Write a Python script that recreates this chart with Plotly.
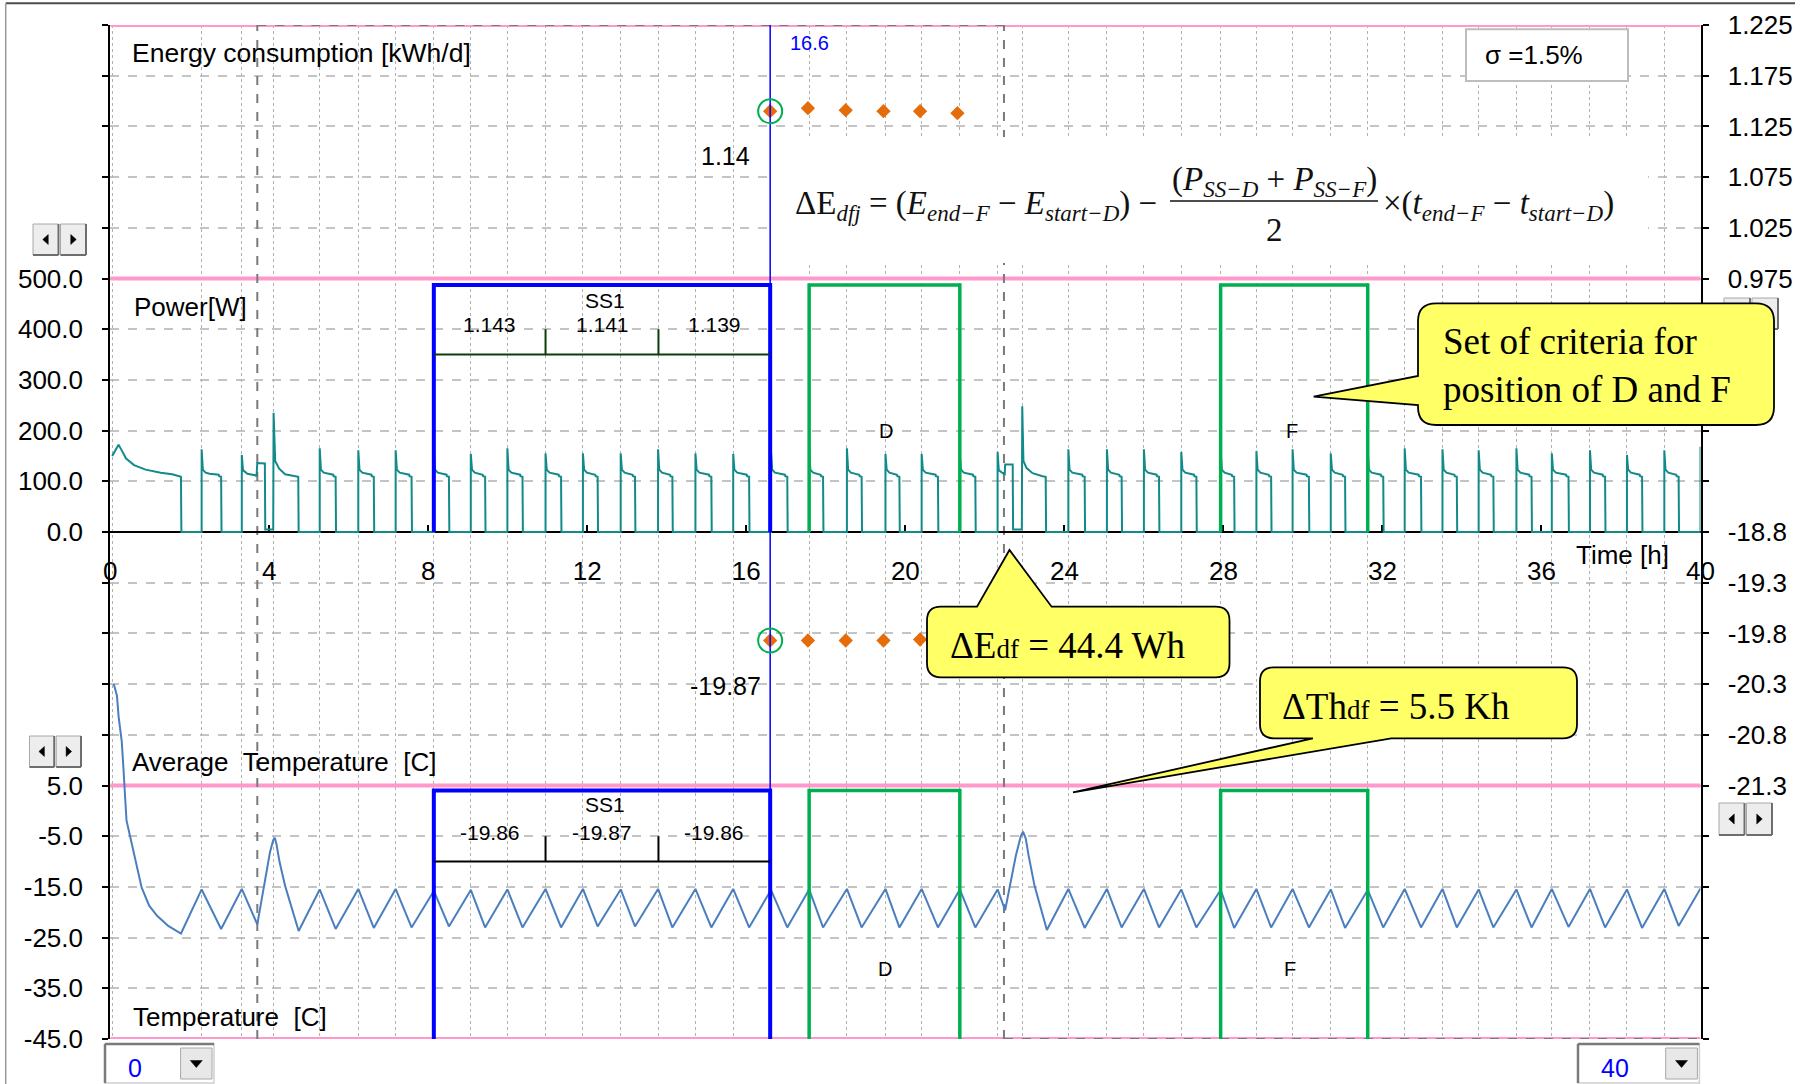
import plotly.graph_objects as go

# ---------------------------------------------------------------- data
x_tick_hours = [0, 4, 8, 12, 16, 20, 24, 28, 32, 36, 40]
power_ticks = [0, 100, 200, 300, 400, 500]
temp_ticks = [-45, -35, -25, -15, -5, 5]
energy_ticks = [0.975, 1.025, 1.075, 1.125, 1.175, 1.225]
avg_temp_ticks = [-21.3, -20.8, -20.3, -19.8, -19.3, -18.8]

# pull-down after switch-on
init_pw_t = [0.05, 0.12, 0.21, 0.29, 0.40, 0.60, 0.89, 1.27, 1.56, 1.78, 1.79]
init_pw_w = [150, 161, 172, 161, 145, 132, 123, 117, 114, 109, 0]
init_temp_t = [0.09, 0.17, 0.21, 0.29, 0.33, 0.36, 0.41, 0.50, 0.645, 0.79, 0.98, 1.18, 1.46, 1.78]
init_temp_v = [25.0, 22.7, 18.7, 13.7, 8.8, 4.8, -1.9, -5.0, -9.8, -15.1, -18.7, -20.7, -22.7, -24.2]

# first disturbance (around 4 h)
dist1_pw_t = [3.31, 3.31, 3.34, 3.45, 3.65, 3.68, 3.70, 3.89, 3.90, 4.10, 4.11, 4.15, 4.25, 4.40, 4.65, 4.73, 4.74]
dist1_pw_w = [0, 152, 122, 115, 112, 110, 136, 135, 5, 5, 235, 140, 125, 114, 110, 109, 0]
dist1_temp_t = [3.31, 3.70, 3.87, 4.02, 4.10, 4.14, 4.18, 4.26, 4.40, 4.55, 4.74]
dist1_temp_v = [-15.4, -22.4, -14.8, -8.1, -5.8, -5.3, -6.5, -10.1, -14.8, -18.8, -23.7]

# second disturbance (around 23 h)
dist2_pw_t = [22.32, 22.32, 22.35, 22.45, 22.50, 22.51, 22.70, 22.71, 22.93, 22.94, 22.97, 23.05, 23.20, 23.45, 23.53, 23.54]
dist2_pw_w = [0, 158, 122, 116, 114, 133, 133, 5, 5, 248, 140, 126, 116, 110, 109, 0]
dist2_temp_t = [22.32, 22.51, 22.63, 22.78, 22.90, 22.96, 23.03, 23.10, 23.25, 23.39, 23.56]
dist2_temp_v = [-15.5, -19.6, -14.8, -8.8, -5.1, -4.1, -5.5, -8.8, -14.8, -18.8, -23.5]

# regular compressor cycles: start [h], stop [h], start spike [W],
# temperature at start and at stop [C]
cycle_on = [2.30, 5.27, 6.24, 7.18, 8.14, 9.07, 9.99, 10.95, 11.89, 12.84, 13.78, 14.72,
            15.67, 16.62, 17.58, 18.53, 19.50, 20.41, 21.37, 24.10, 25.07, 26.00, 26.94, 27.93,
            28.83, 29.74, 30.70, 31.63, 32.56, 33.51, 34.42, 35.37, 36.26, 37.22, 38.15, 39.09]
cycle_off = [2.79, 5.67, 6.63, 7.58, 8.52, 9.43, 10.37, 11.34, 12.26, 13.20, 14.14, 15.12,
             16.07, 17.03, 17.93, 18.90, 19.85, 20.82, 21.76, 24.51, 25.44, 26.38, 27.32, 28.27,
             29.20, 30.15, 31.06, 32.02, 32.97, 33.87, 34.79, 35.75, 36.68, 37.60, 38.53, 39.45]
cycle_spike = [163, 165, 161, 161, 160, 154, 165, 155, 155, 155, 163, 155,
               154, 160, 162, 165, 154, 154, 154, 163, 163, 163, 158, 160,
               160, 163, 155, 160, 165, 163, 161, 165, 155, 161, 152, 161]
cycle_temp_hi = [-15.5, -15.5, -15.4, -15.4, -15.8, -15.6, -15.5, -15.4, -15.4, -15.5, -15.4, -15.4,
                 -15.4, -15.6, -15.5, -15.4, -15.4, -15.4, -15.5, -15.4, -15.4, -15.4, -15.5, -15.6,
                 -15.4, -15.4, -15.5, -15.6, -15.4, -15.4, -15.5, -15.5, -15.4, -15.4, -15.5, -15.4]
cycle_temp_lo = [-23.3, -23.3, -23.1, -23.0, -22.8, -23.0, -23.0, -23.0, -22.8, -22.8, -23.0, -23.0,
                 -23.0, -23.0, -23.0, -23.0, -23.0, -23.0, -23.0, -23.1, -23.0, -23.0, -23.0, -23.1,
                 -23.0, -23.0, -23.1, -23.0, -23.0, -23.0, -23.0, -23.0, -22.9, -23.0, -23.1, -22.7]
# running plateau of a cycle: hours after start / before stop and watts
plateau_dt = [0.03, 0.10, 0.20]
plateau_w = [123, 117, 115]
tail_dt = [0.06, 0.05, 0.0]
tail_w = [113, 110, 109]
# cycle starting at the right edge
last_on_t = [40.0, 40.0]
last_on_w = [0, 168]
last_temp_t = [40.0]
last_temp_v = [-15.3]

# selected steady-state points
energy_t = [16.6, 17.55, 18.5, 19.45, 20.37, 21.31]
energy_v = [1.14, 1.143, 1.141, 1.140, 1.140, 1.138]
avg_t = [16.6, 17.55, 18.5, 19.45, 20.37, 21.31]
avg_v = [-19.87, -19.87, -19.87, -19.87, -19.86, -19.87]
cursor_t = 16.6

# periods
ss1_bounds = [8.14, 10.95, 13.79, 16.6]
ss1_energy = ["1.143", "1.141", "1.139"]
ss1_temp = ["-19.86", "-19.87", "-19.86"]
d_bounds = [17.58, 21.37]
f_bounds = [27.93, 31.63]
marker_hours = [3.7, 22.48]

# ---------------------------------------------------------------- series
segments = [(init_pw_t, init_pw_w), (dist1_pw_t, dist1_pw_w), (dist2_pw_t, dist2_pw_w),
            (last_on_t, last_on_w)]
for on, off, pk in zip(cycle_on, cycle_off, cycle_spike):
    ts = [on, on] + [on + d for d in plateau_dt] + [off - d for d in tail_dt] + [off + 0.01]
    ws = [0, pk] + plateau_w + tail_w + [0]
    segments.append((ts, ws))
segments.sort(key=lambda s: s[0][0])
pw_t, pw_w = [], []
for ts, ws in segments:
    pw_t += ts
    pw_w += ws

temp_pts = list(zip(init_temp_t, init_temp_v)) + list(zip(dist1_temp_t, dist1_temp_v)) \
    + list(zip(dist2_temp_t, dist2_temp_v)) + list(zip(last_temp_t, last_temp_v))
for on, off, hi, lo in zip(cycle_on, cycle_off, cycle_temp_hi, cycle_temp_lo):
    temp_pts += [(on, hi), (off, lo)]
temp_pts.sort()
tmp_t = [p[0] for p in temp_pts]
tmp_v = [p[1] for p in temp_pts]

grid_hours = sorted(set([0.05] + cycle_on + [3.31, 4.11, 22.32, 22.94]))

# ---------------------------------------------------------------- layout helpers
W, H = 1800, 1084
def fx(p):
    return p / W
def fy(p):
    return 1 - p / H

PX0, PX1, PY0, PY1 = 110.2, 1700.5, 25.0, 1039.0
SANS = "Liberation Sans, Arial, sans-serif"
SERIF = "Liberation Serif, Times New Roman, serif"
PINK = "#FF99CC"
BLUE = "#0000FF"
GREEN = "#00B050"
TEAL = "#138a8a"
STEEL = "#4a7ebf"
ORANGE = "#E46C0A"
GRID = "#c4c4c4"

n_grid = 21
temp_all = [-45 + 10 * i for i in range(n_grid)]
energy_all = [round(0.225 + 0.05 * i, 3) for i in range(n_grid)]
# base (temperature) axis values of the panel borders
energy_top_on_base, energy_bottom_on_base = 155, 105

fig = go.Figure()
fig.add_trace(go.Scatter(x=pw_t, y=pw_w, xaxis="x", yaxis="y2", mode="lines",
                         line=dict(color=TEAL, width=2), hoverinfo="skip"))
fig.add_trace(go.Scatter(x=tmp_t, y=tmp_v, xaxis="x", yaxis="y", mode="lines",
                         line=dict(color=STEEL, width=2), hoverinfo="skip"))
fig.add_trace(go.Scatter(x=energy_t, y=energy_v, xaxis="x", yaxis="y3", mode="markers",
                         marker=dict(symbol="diamond", size=11, color=ORANGE), hoverinfo="skip"))
fig.add_trace(go.Scatter(x=avg_t, y=avg_v, xaxis="x", yaxis="y4", mode="markers",
                         marker=dict(symbol="diamond", size=11, color=ORANGE), hoverinfo="skip"))
fig.add_trace(go.Scatter(x=[0], y=[0], xaxis="x2", yaxis="y", mode="markers",
                         marker=dict(opacity=0), hoverinfo="skip"))

tickfont = dict(family=SANS, size=26, color="black")
common_y = dict(zeroline=False, ticks="outside", ticklen=6, tickwidth=1.5, tickcolor="black",
                tickfont=tickfont, showline=True, linecolor="black", linewidth=2,
                automargin=False, ticklabelstandoff=14)
minor_ticks = dict(ticks="outside", ticklen=6, tickwidth=1.5, tickcolor="black")

fig.update_layout(
    width=W, height=H, margin=dict(l=0, r=0, t=0, b=0, autoexpand=False),
    paper_bgcolor="white", plot_bgcolor="white", showlegend=False,
    font=dict(family=SANS, size=26, color="black"),
    xaxis=dict(domain=[fx(PX0), fx(PX1)], range=[0, 40], anchor="free", position=fy(532.3),
               tickvals=x_tick_hours, ticktext=[str(v) for v in x_tick_hours],
               ticks="inside", ticklen=7, tickwidth=1.5, tickcolor="black", tickfont=tickfont,
               showline=True, linecolor="black", linewidth=1.5, showgrid=False, zeroline=False,
               layer="below traces", ticklabelstandoff=16, automargin=False),
    xaxis2=dict(overlaying="x", range=[0, 40], anchor="y", tickvals=grid_hours,
                showticklabels=False, ticks="", showgrid=True, griddash="dot",
                gridcolor="#b0b0b0", gridwidth=1.3, zeroline=False, showline=False,
                automargin=False),
    yaxis=dict(domain=[fy(PY1), fy(PY0)], range=[-45, 155], tickvals=temp_ticks,
               ticktext=[f"{v:.1f}" for v in temp_ticks],
               showgrid=True, griddash="dash", gridcolor=GRID, gridwidth=1.5,
               minor=dict(tickmode="array", tickvals=temp_all, showgrid=True, griddash="dash",
                          gridcolor=GRID, gridwidth=1.5, **minor_ticks),
               **common_y),
    yaxis2=dict(overlaying="y", side="left", range=[-1000, 1000], tickvals=power_ticks,
                ticktext=[f"{v:.1f}" for v in power_ticks], showgrid=False, **common_y),
    yaxis3=dict(overlaying="y", side="right", range=[0.225, 1.225], tickvals=energy_ticks,
                ticktext=[f"{v:.3f}" for v in energy_ticks], showgrid=False,
                minor=dict(tickmode="array", tickvals=energy_all, showgrid=False, **minor_ticks),
                **common_y),
    yaxis4=dict(overlaying="y", side="right", range=[-23.8, -13.8], tickvals=avg_temp_ticks,
                ticktext=[f"{v:.1f}" for v in avg_temp_ticks], showgrid=False, **common_y),
)

shapes = []
def line_shape(x0, y0, x1, y1, xref, yref, color, width, dash="solid", layer="above"):
    return dict(type="line", xref=xref, yref=yref, x0=x0, y0=y0, x1=x1, y1=y1,
                line=dict(color=color, width=width, dash=dash), layer=layer)

# panel borders
for val in [energy_top_on_base, energy_bottom_on_base, temp_ticks[-1], temp_ticks[0]]:
    shapes.append(line_shape(0, val, 40, val, "x", "y", PINK, 4, layer="between"))
# dashed period markers
for h in marker_hours:
    shapes.append(line_shape(h, -45, h, 155, "x", "y", "#7a7a7a", 2, "dash", "between"))
shapes.append(line_shape(marker_hours[0], energy_top_on_base, marker_hours[1], energy_top_on_base,
                         "x", "y", "#7a7a7a", 2, "dash", "between"))
shapes.append(line_shape(marker_hours[1], -45, 40, -45, "x", "y", "#7a7a7a", 2, "dash", "between"))

# cursor
shapes.append(line_shape(cursor_t, -45, cursor_t, 155, "x", "y", BLUE, 1.5))
for yv, ref in [(energy_v[0], "y3"), (avg_v[0], "y4")]:
    shapes.append(dict(type="circle", xref="x", yref=ref, xsizemode="pixel", ysizemode="pixel",
                       xanchor=cursor_t, yanchor=yv, x0=-12, x1=12, y0=-12, y1=12,
                       line=dict(color=GREEN, width=2), layer="above"))

# period boxes
def box(a, b, lo, hi, ref, color, width):
    return dict(type="path", xref="x", yref=ref, path=f"M {a},{lo} L {a},{hi} L {b},{hi} L {b},{lo}",
                line=dict(color=color, width=width), layer="above")
shapes.append(box(ss1_bounds[0], ss1_bounds[-1], 0, 487, "y2", BLUE, 4))
shapes.append(box(ss1_bounds[0], ss1_bounds[-1], -45, 4, "y", BLUE, 4))
for a, b in [d_bounds, f_bounds]:
    shapes.append(box(a, b, 0, 487, "y2", GREEN, 3.5))
    shapes.append(box(a, b, -45, 4, "y", GREEN, 3.5))

# SS1 sub-period scales
shapes.append(line_shape(ss1_bounds[0], 350, ss1_bounds[-1], 350, "x", "y2", "#0b3d0b", 2))
shapes.append(line_shape(ss1_bounds[0], -10, ss1_bounds[-1], -10, "x", "y", "black", 2))
for h in ss1_bounds[1:3]:
    shapes.append(line_shape(h, 350, h, 400, "x", "y2", "#0b3d0b", 2))
    shapes.append(line_shape(h, -10, h, -5, "x", "y", "black", 2))

# white panels behind the formula and the sigma field
shapes.append(dict(type="rect", xref="paper", yref="paper", x0=fx(774), x1=fx(1648), y0=fy(263), y1=fy(137),
                   fillcolor="white", line=dict(width=0), layer="above"))
shapes.append(dict(type="rect", xref="paper", yref="paper", x0=fx(1466), x1=fx(1628), y0=fy(81), y1=fy(29.3),
                   fillcolor="white", line=dict(color="#bdbdbd", width=2), layer="above"))
# fraction bar
shapes.append(line_shape(fx(1170), fy(201), fx(1378), fy(201), "paper", "paper", "#111111", 1.6))

# scroll buttons
def tri(pts, color="black"):
    d = "M " + " L ".join(f"{fx(x):.5f},{fy(y):.5f}" for x, y in pts) + " Z"
    return dict(type="path", xref="paper", yref="paper", path=d, fillcolor=color,
                line=dict(color=color, width=0.5), layer="above")

def scroll_pair(x0, y0, x1, y1):
    xm = (x0 + x1) / 2
    out = []
    for a, b, direction in [(x0, xm - 1, -1), (xm + 1, x1, 1)]:
        out.append(dict(type="rect", xref="paper", yref="paper", x0=fx(a), x1=fx(b), y0=fy(y1), y1=fy(y0),
                        fillcolor="#ededed", line=dict(color="#a8a8a8", width=1), layer="above"))
        out.append(line_shape(fx(a), fy(y1), fx(b), fy(y1), "paper", "paper", "#6e6e6e", 2))
        out.append(line_shape(fx(b), fy(y0), fx(b), fy(y1), "paper", "paper", "#6e6e6e", 2))
        cx, cy = (a + b) / 2, (y0 + y1) / 2
        if direction < 0:
            out.append(tri([(cx - 3, cy), (cx + 2.5, cy - 5), (cx + 2.5, cy + 5)]))
        else:
            out.append(tri([(cx + 3, cy), (cx - 2.5, cy - 5), (cx - 2.5, cy + 5)]))
    return out

shapes += scroll_pair(33, 224, 86, 255)
shapes += scroll_pair(29.5, 736, 81, 767)
shapes += scroll_pair(1719, 803, 1772, 835)
shapes += scroll_pair(1724, 298, 1778, 329)

# range selectors
def dropdown(x0, y0, x1, y1, bx0):
    out = [dict(type="rect", xref="paper", yref="paper", x0=fx(x0), x1=fx(x1), y0=fy(y1), y1=fy(y0),
                fillcolor="white", line=dict(color="#cfcfcf", width=1.5), layer="above"),
           line_shape(fx(x0), fy(y0), fx(x1), fy(y0), "paper", "paper", "#7a7a7a", 2.5),
           line_shape(fx(x0), fy(y0), fx(x0), fy(y1), "paper", "paper", "#7a7a7a", 2.5),
           dict(type="rect", xref="paper", yref="paper", x0=fx(bx0), x1=fx(x1 - 2), y0=fy(y1 - 4), y1=fy(y0 + 4),
                fillcolor="#e8e8e8", line=dict(color="#a8a8a8", width=1), layer="above")]
    cx, cy = (bx0 + x1 - 2) / 2, (y0 + y1) / 2
    out.append(tri([(cx - 6, cy - 3), (cx + 6, cy - 3), (cx, cy + 4)]))
    return out

shapes += dropdown(105, 1044, 214, 1083, 180.6)
shapes += dropdown(1578, 1044, 1699.4, 1083, 1665.7)

# window frame
shapes.append(line_shape(fx(5.7), fy(3.3), fx(1795), fy(3.3), "paper", "paper", "#4d4d4d", 2))
shapes.append(line_shape(fx(5.7), fy(3.3), fx(5.7), fy(1084), "paper", "paper", "#9a9a9a", 1.5))

# callouts
def bubble_path(x0, y0, x1, y1, r, edge, b0, b1, tip):
    def P(x, y):
        return f"{fx(x):.5f},{fy(y):.5f}"
    d = [f"M {P(x0 + r, y0)}"]
    if edge == "top":
        d += [f"L {P(b0, y0)}", f"L {P(*tip)}", f"L {P(b1, y0)}"]
    d += [f"L {P(x1 - r, y0)}", f"Q {P(x1, y0)} {P(x1, y0 + r)}"]
    d += [f"L {P(x1, y1 - r)}", f"Q {P(x1, y1)} {P(x1 - r, y1)}"]
    if edge == "bottom":
        d += [f"L {P(b1, y1)}", f"L {P(*tip)}", f"L {P(b0, y1)}"]
    d += [f"L {P(x0 + r, y1)}", f"Q {P(x0, y1)} {P(x0, y1 - r)}"]
    if edge == "left":
        d += [f"L {P(x0, b1)}", f"L {P(*tip)}", f"L {P(x0, b0)}"]
    d += [f"L {P(x0, y0 + r)}", f"Q {P(x0, y0)} {P(x0 + r, y0)}", "Z"]
    return " ".join(d)

for args in [(1418, 303.3, 1774, 425, 18, "left", 376, 405, (1313.7, 396.7)),
             (927, 606.7, 1229.5, 677.3, 14, "top", 977, 1051.6, (1009.5, 550)),
             (1260, 667.3, 1577, 738.3, 14, "bottom", 1312.9, 1391.3, (1073, 792.3))]:
    shapes.append(dict(type="path", xref="paper", yref="paper", path=bubble_path(*args),
                       fillcolor="#FFFF66", line=dict(color="black", width=1.8), layer="above"))

fig.update_layout(shapes=shapes)

# ---------------------------------------------------------------- text
ann = []
def label(text, x, y, xref="paper", yref="paper", size=26, color="black", family=SANS,
          xanchor="left", yanchor="middle", align="left"):
    ann.append(dict(text=text, x=x, y=y, xref=xref, yref=yref, showarrow=False,
                    font=dict(size=size, color=color, family=family),
                    xanchor=xanchor, yanchor=yanchor, align=align))

NB = "\u00a0"
label("Energy" + NB + "consumption" + NB + "[kWh/d]", fx(130), fy(52.7), size=26.5)
label("Power[W]", fx(132), fy(306.7))
label("Average" + NB + NB + "Temperature" + NB + NB + "[C]", fx(130), fy(761.7))
label("Temperature" + NB + NB + "[C]", fx(131), fy(1016.7))
label("Time [h]", fx(1622), fy(555), xanchor="center")
label("σ =1.5%", fx(1483), fy(55))

label(f"{cursor_t}", 17.04, 1.207, "x", "y3", size=20, color=BLUE)
label(f"{energy_v[0]:.2f}", 15.47, 1.0955, "x", "y3", size=25, xanchor="center")
label(f"{avg_v[0]:.2f}", 15.47, -20.32, "x", "y4", size=25, xanchor="center")

mids = [(ss1_bounds[i] + ss1_bounds[i + 1]) / 2 for i in range(3)]
ss1_mid = 12.45
label("SS1", ss1_mid, 457, "x", "y2", size=21, xanchor="center")
label("SS1", ss1_mid, 1.2, "x", "y", size=21, xanchor="center")
for m, e, t in zip(mids, ss1_energy, ss1_temp):
    label(e, m, 410, "x", "y2", size=21, xanchor="center")
    label(t, m, -4.3, "x", "y", size=21, xanchor="center")
label("D", 19.52, 200, "x", "y2", size=20, xanchor="center")
label("D", 19.50, -31.2, "x", "y", size=20, xanchor="center")
label("F", 29.73, 200, "x", "y2", size=20, xanchor="center")
label("F", 29.68, -31.1, "x", "y", size=20, xanchor="center")

# energy balance formula (subscripts as smaller, lowered italic runs)
EQ = "#111111"
def sub(s):
    return f"<span style='font-size:23px;font-style:italic;baseline-shift:-7px'>{s}</span>"
def it(s):
    return f"<span style='font-style:italic'>{s}</span>"

label("ΔE" + sub("dfj") + " = (" + it("E") + sub("end−F") + " − " + it("E") + sub("start−D") + ") −",
      fx(793), fy(206), size=33, color=EQ, family=SERIF)
label("(" + it("P") + sub("SS−D") + " + " + it("P") + sub("SS−F") + ")", fx(1274), fy(181), size=33,
      color=EQ, family=SERIF, xanchor="center")
label("2", fx(1274.6), fy(230), size=33, color=EQ, family=SERIF, xanchor="center")
label("×(" + it("t") + sub("end−F") + " − " + it("t") + sub("start−D") + ")", fx(1381), fy(206),
      size=33, color=EQ, family=SERIF)

# callout texts
label("Set of criteria for<br>position of D and F", fx(1441), fy(365.5), size=37, family=SERIF)
label("ΔE<span style='font-size:27px'>df</span> = 44.4 Wh", fx(948), fy(645), size=37, family=SERIF)
label("ΔTh<span style='font-size:27px'>df</span> = 5.5 Kh", fx(1280), fy(706.7), size=37, family=SERIF)

# range selector values
label("0", fx(135), fy(1068), size=25, color=BLUE, xanchor="center")
label("40", fx(1615), fy(1068), size=25, color=BLUE, xanchor="center")

fig.update_layout(annotations=ann)
fig.write_html("out.html")
